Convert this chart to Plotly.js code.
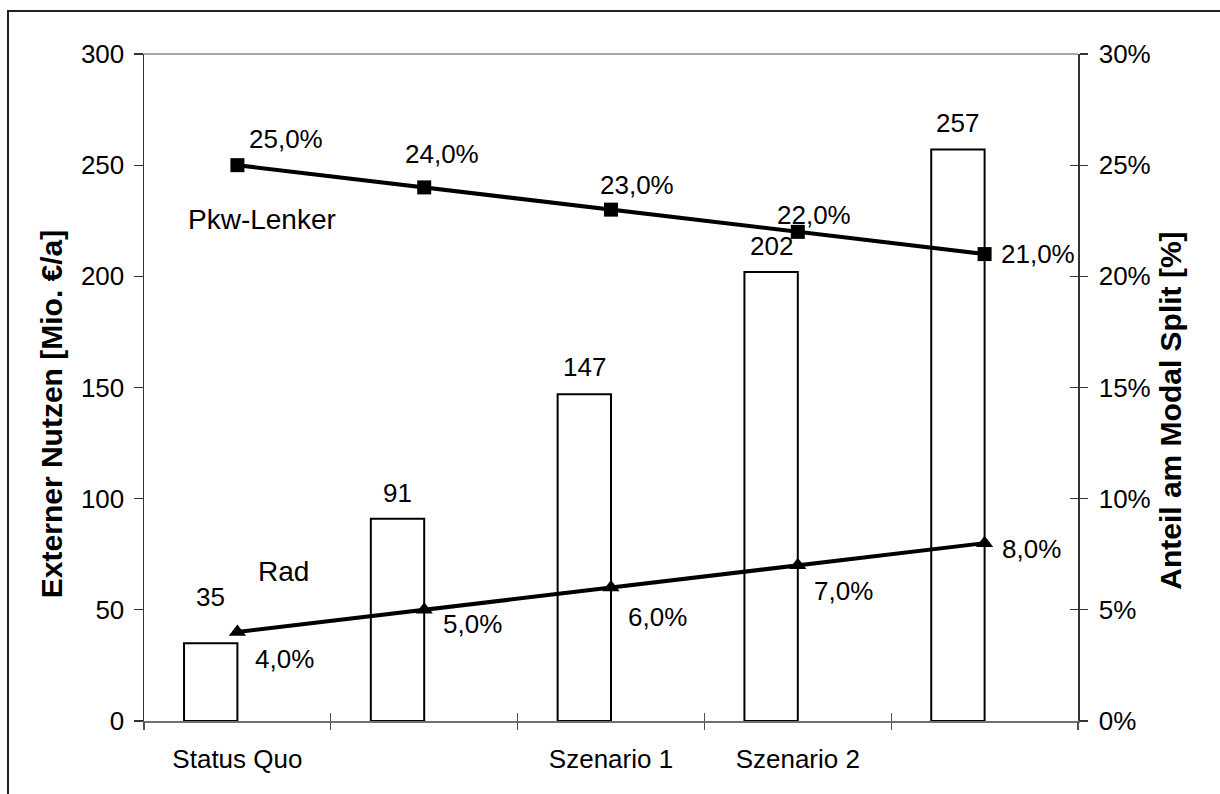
<!DOCTYPE html>
<html>
<head>
<meta charset="utf-8">
<script src="https://cdn.plot.ly/plotly-3.0.1.min.js"></script>
<style>
  html, body { margin: 0; padding: 0; background: #fff; }
  #wrap { position: relative; width: 1220px; height: 794px; }
  #chart { position: absolute; left: 0; top: 0; width: 1220px; height: 794px; }
  #frame { position: absolute; left: 7px; top: 10px; right: 0; bottom: 0;
           border-left: 2px solid #222; border-top: 2px solid #222; pointer-events: none; }
</style>
</head>
<body>
<div id="wrap"><div id="chart"></div><div id="frame"></div></div>
<script>
// ---- data ----
const categories = ["Status Quo", "", "Szenario 1", "Szenario 2", ""];
const externerNutzen = [35, 91, 147, 202, 257];          // Mio. €/a (left axis)
const pkwLenker = [25, 24, 23, 22, 21];                   // % (right axis)
const rad = [4, 5, 6, 7, 8];                              // % (right axis)
const leftTicks = [0, 50, 100, 150, 200, 250, 300];
const rightTicks = [0, 5, 10, 15, 20, 25, 30];
const rightTickText = rightTicks.map(v => v + '%');

// ---- styling / label placement (pixel shifts) ----
const barOffset = -0.2857, barWidth = 0.2857;
const pkwShift = [[49, -26], [17.5, -33], [25.7, -25], [16, -17], [53, 0]];
const radShift = [[46.6, 27], [48, 14], [46, 29], [46, 26], [47, 6]];
const barLabelUp = [45.7, 26, 27, 26, 27];
const FONT = "Liberation Sans, Arial, Helvetica, sans-serif";

const idx = categories.map((c, i) => i);
const boundaries = categories.map((c, i) => i - 0.5).concat([categories.length - 0.5]);
const pct = v => v.toFixed(1).replace('.', ',') + '%';

const traces = [
  {
    type: 'bar', x: idx, y: externerNutzen, offset: barOffset, width: barWidth,
    marker: { color: '#ffffff', line: { color: '#000000', width: 2 } },
    xaxis: 'x', yaxis: 'y', hoverinfo: 'skip', showlegend: false
  },
  {
    type: 'scatter', mode: 'lines+markers', x: idx, y: pkwLenker,
    line: { color: '#000000', width: 4 },
    marker: { symbol: 'square', size: 14, color: '#000000' },
    xaxis: 'x', yaxis: 'y2', hoverinfo: 'skip', showlegend: false
  },
  {
    type: 'scatter', mode: 'lines+markers', x: idx, y: rad,
    line: { color: '#000000', width: 4 },
    marker: { symbol: 'triangle-up', size: 15, color: '#000000' },
    xaxis: 'x', yaxis: 'y2', hoverinfo: 'skip', showlegend: false
  }
];

const annotations = [];
externerNutzen.forEach((v, i) => annotations.push({
  xref: 'x', yref: 'y', x: i + barOffset + barWidth / 2, y: v, yshift: barLabelUp[i],
  text: String(v), showarrow: false, font: { family: FONT, size: 26, color: '#000' }
}));
pkwLenker.forEach((v, i) => annotations.push({
  xref: 'x', yref: 'y2', x: i, y: v, xshift: pkwShift[i][0], yshift: -pkwShift[i][1],
  text: pct(v), showarrow: false, font: { family: FONT, size: 26, color: '#000' }
}));
rad.forEach((v, i) => annotations.push({
  xref: 'x', yref: 'y2', x: i, y: v, xshift: radShift[i][0], yshift: -radShift[i][1],
  text: pct(v), showarrow: false, font: { family: FONT, size: 26, color: '#000' }
}));
// series names
annotations.push({ xref: 'x', yref: 'y2', x: 0, y: pkwLenker[0], xshift: 25, yshift: -54,
  text: 'Pkw-Lenker', showarrow: false, font: { family: FONT, size: 28, color: '#000' } });
annotations.push({ xref: 'x', yref: 'y2', x: 0, y: rad[0], xshift: 46, yshift: 61,
  text: 'Rad', showarrow: false, font: { family: FONT, size: 28, color: '#000' } });
// axis titles
annotations.push({ xref: 'paper', yref: 'paper', x: -0.0996, y: 0.46, textangle: -90,
  xanchor: 'center', yanchor: 'middle',
  text: '<b>Externer Nutzen [Mio. €/a]</b>', showarrow: false,
  font: { family: FONT, size: 30, color: '#000' } });
annotations.push({ xref: 'paper', yref: 'paper', x: 1.0995, y: 0.465, textangle: -90,
  xanchor: 'center', yanchor: 'middle',
  text: '<b>Anteil am Modal Split [%]</b>', showarrow: false,
  font: { family: FONT, size: 30, color: '#000' } });

const xr = [-0.5, categories.length - 0.5];
const layout = {
  width: 1220, height: 794,
  margin: { l: 144, r: 142, t: 54, b: 73, pad: 0 },
  paper_bgcolor: '#ffffff', plot_bgcolor: '#ffffff',
  showlegend: false, hovermode: false,
  font: { family: FONT, size: 26, color: '#000' },
  xaxis: {
    range: xr, tickmode: 'array', tickvals: idx, ticktext: categories,
    ticks: '', showgrid: false, zeroline: false,
    showline: true, linecolor: '#707070', linewidth: 1.5,
    ticklabelstandoff: 14, tickfont: { family: FONT, size: 26, color: '#000' }
  },
  xaxis2: {
    overlaying: 'x', anchor: 'y', side: 'bottom', range: xr,
    tickmode: 'array', tickvals: boundaries, ticks: 'outside', ticklen: 8,
    tickcolor: '#505050', tickwidth: 1.2, showticklabels: false,
    showgrid: false, zeroline: false, showline: false
  },
  xaxis3: {
    overlaying: 'x', anchor: 'y', side: 'bottom', range: xr,
    tickmode: 'array', tickvals: boundaries, ticks: 'inside', ticklen: 8,
    tickcolor: '#505050', tickwidth: 1.2, showticklabels: false,
    showgrid: false, zeroline: false, showline: false
  },
  yaxis: {
    range: [0, 300], tickmode: 'array', tickvals: leftTicks,
    ticks: 'outside', ticklen: 9, tickcolor: '#333', tickwidth: 1.2,
    showgrid: false, zeroline: false, showline: true, linecolor: '#333', linewidth: 1.5,
    ticklabelstandoff: 4,
    tickfont: { family: FONT, size: 26, color: '#000' }
  },
  yaxis2: {
    overlaying: 'y', side: 'right', anchor: 'x', range: [0, 30],
    tickmode: 'array', tickvals: rightTicks, ticktext: rightTickText,
    ticks: 'outside', ticklen: 8, tickcolor: '#333', tickwidth: 1.2,
    showgrid: false, zeroline: false, showline: true, linecolor: '#333', linewidth: 1.5,
    ticklabelstandoff: 6,
    tickfont: { family: FONT, size: 26, color: '#000' }
  },
  yaxis3: {
    overlaying: 'y', side: 'right', anchor: 'x', range: [0, 30],
    tickmode: 'array', tickvals: rightTicks, ticks: 'inside', ticklen: 8,
    tickcolor: '#333', tickwidth: 1.2, showticklabels: false,
    showgrid: false, zeroline: false, showline: false
  },
  shapes: [
    { type: 'line', xref: 'paper', yref: 'paper', x0: 0, x1: 1, y0: 1, y1: 1,
      line: { color: '#8a8a8a', width: 1.5 } }
  ],
  annotations: annotations
};

// invisible helper traces so overlay tick axes are drawn
traces.push({ type: 'scatter', x: [xr[0]], y: [0], xaxis: 'x2', yaxis: 'y', mode: 'markers',
  marker: { opacity: 0 }, hoverinfo: 'skip', showlegend: false });
traces.push({ type: 'scatter', x: [xr[0]], y: [0], xaxis: 'x3', yaxis: 'y3', mode: 'markers',
  marker: { opacity: 0 }, hoverinfo: 'skip', showlegend: false });

Plotly.newPlot('chart', traces, layout, { staticPlot: true, displayModeBar: false });
</script>
</body>
</html>
